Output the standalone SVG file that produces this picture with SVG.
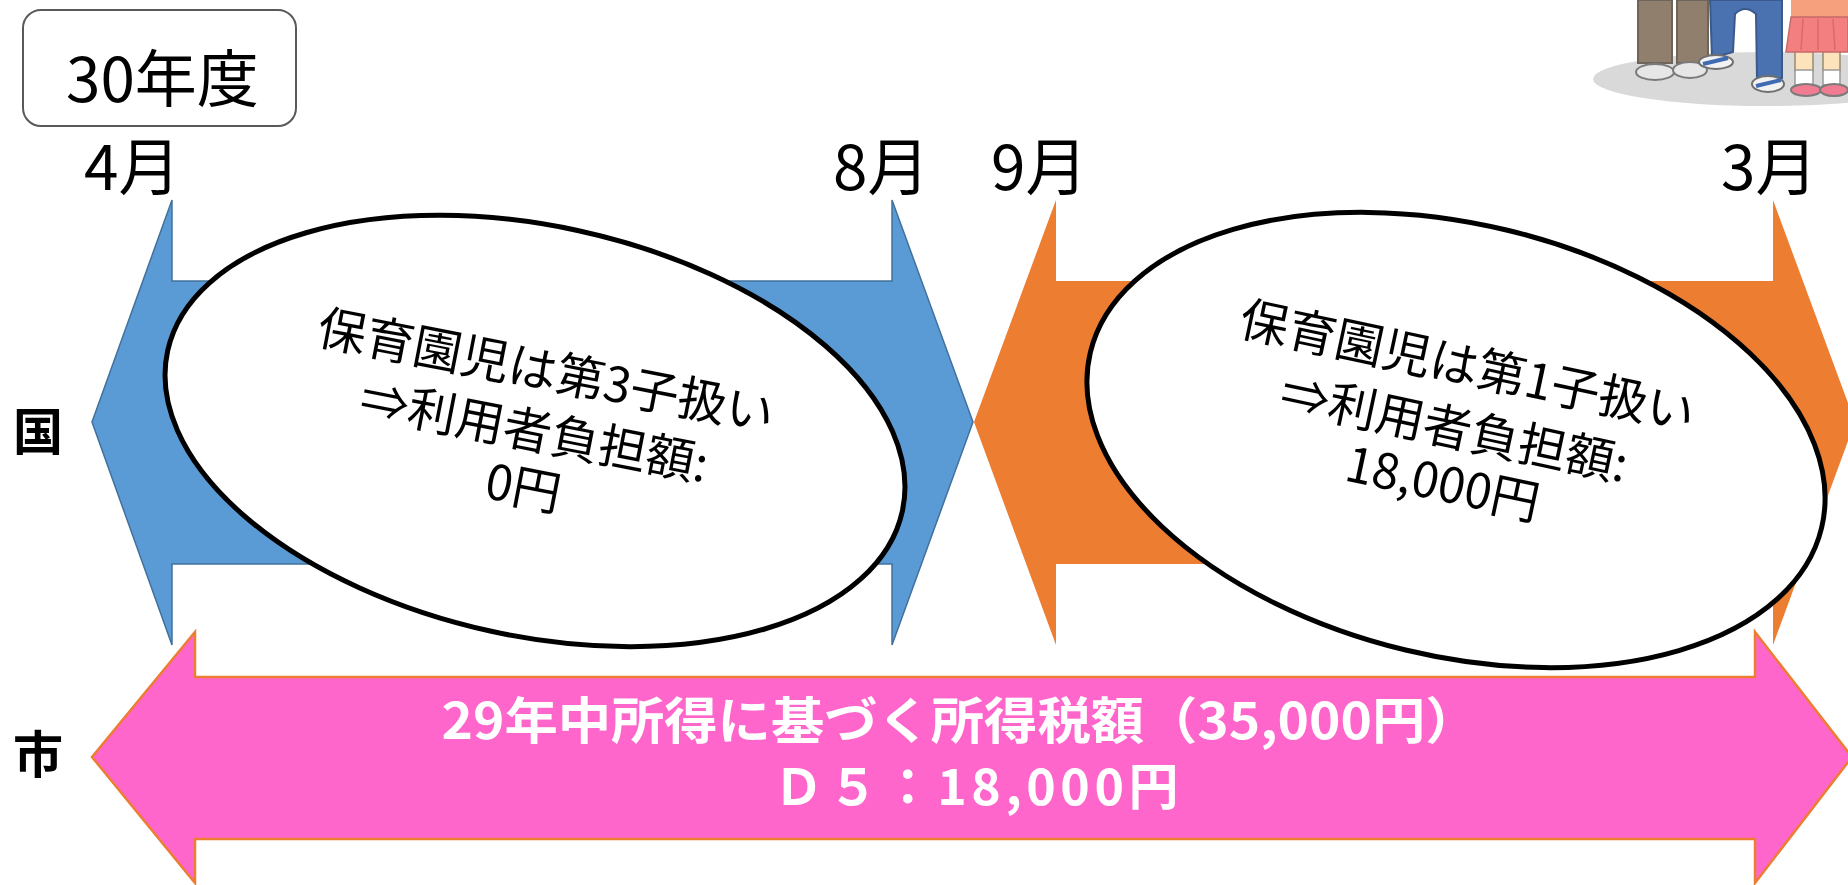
<svg xmlns="http://www.w3.org/2000/svg" width="1848" height="885" viewBox="0 0 1848 885">
  <style>
    .jp { font-family: "Noto Sans CJK JP", "Noto Sans", sans-serif; }
    .month { font-size: 62px; fill: #000; }
    .side { font-size: 50px; font-weight: bold; fill: #000; }
    .bubble { fill: #fff; stroke: #000; stroke-width: 5; }
    .btxt { font-size: 48.5px; fill: #000; text-anchor: middle; }
    .ptxt { font-size: 50px; font-weight: bold; fill: #fff; text-anchor: middle; }
  </style>

  <!-- illustration: family feet on a floor shadow -->
  <g id="illustration">
    <ellipse cx="1765" cy="79" rx="172" ry="27" fill="#d9d9d9"/>
    <!-- adult trousers -->
    <rect x="1638" y="0" width="34" height="63" fill="#8f7f6c" stroke="#6d655b" stroke-width="2"/>
    <rect x="1677" y="0" width="31" height="63" fill="#8f7f6c" stroke="#6d655b" stroke-width="2"/>
    <ellipse cx="1655" cy="72" rx="19" ry="8" fill="#e6e6e6" stroke="#7a7a7a" stroke-width="2"/>
    <ellipse cx="1690" cy="70" rx="17" ry="8" fill="#e6e6e6" stroke="#7a7a7a" stroke-width="2"/>
    <!-- child jeans -->
    <path d="M1710,0 L1782,0 L1782,78 L1757,78 L1756,14 Q1745,4 1735,14 L1733,52 L1712,58 Z" fill="#4a72b0" stroke="#3a5a8c" stroke-width="2"/>
    <ellipse cx="1716" cy="62" rx="17" ry="7" fill="#f2f2f2" stroke="#6f6f6f" stroke-width="2"/>
    <path d="M1703,64 L1728,58" stroke="#3f6bb3" stroke-width="4"/>
    <ellipse cx="1768" cy="84" rx="16" ry="8" fill="#f2f2f2" stroke="#6f6f6f" stroke-width="2"/>
    <path d="M1756,86 L1781,80" stroke="#3f6bb3" stroke-width="4"/>
    <!-- girl -->
    <rect x="1795" y="50" width="18" height="22" fill="#fce3bb" stroke="#9a8a70" stroke-width="1.5"/>
    <rect x="1823" y="50" width="17" height="22" fill="#fce3bb" stroke="#9a8a70" stroke-width="1.5"/>
    <rect x="1795" y="70" width="18" height="15" fill="#fff" stroke="#9a9a9a" stroke-width="1.5"/>
    <rect x="1823" y="70" width="17" height="15" fill="#fff" stroke="#9a9a9a" stroke-width="1.5"/>
    <ellipse cx="1806" cy="90" rx="15" ry="6" fill="#f07c92" stroke="#7a7a7a" stroke-width="2"/>
    <ellipse cx="1834" cy="90" rx="14" ry="6" fill="#f07c92" stroke="#7a7a7a" stroke-width="2"/>
    <rect x="1791" y="0" width="57" height="18" fill="#f7a07e"/>
    <path d="M1791,17 L1848,17 L1848,52 L1786,52 Z" fill="#f47f80" stroke="#c66a6a" stroke-width="1.5"/>
    <path d="M1803,19 L1801,50 M1818,19 L1818,50 M1833,19 L1835,50" stroke="#d96a6c" stroke-width="1.5"/>
  </g>

  <!-- fiscal year badge -->
  <g id="year-badge">
    <rect x="23" y="10" width="273" height="116" rx="18" fill="#fff" stroke="#595959" stroke-width="2"/>
    <text class="jp" x="66" y="102" font-size="62" fill="#000">30年度</text>
  </g>

  <!-- month markers -->
  <g id="months">
    <text class="jp month" x="84" y="190">4月</text>
    <text class="jp month" x="833" y="190">8月</text>
    <text class="jp month" x="991" y="190">9月</text>
    <text class="jp month" x="1721" y="190">3月</text>
  </g>

  <!-- row labels -->
  <g id="row-labels">
    <text class="jp side" x="13" y="450">国</text>
    <text class="jp side" x="13" y="773">市</text>
  </g>

  <!-- period arrows -->
  <g id="connectors">
    <polygon id="arrow-apr-aug" points="92,422 172,200 172,281 892,281 892,200 973,422 892,645 892,564 172,564 172,645" fill="#5b9bd5" stroke="#41719c" stroke-width="1.5"/>
    <polygon id="arrow-sep-mar" points="974,422 1056,200 1056,281 1773,281 1773,200 1855,422 1773,645 1773,564 1056,564 1056,645" fill="#ed7d31"/>
    <polygon id="arrow-city" points="92,757 195,632 195,677 1755,677 1755,632 1852,757 1755,883 1755,839 195,839 195,883" fill="#ff66cc" stroke="#ed7d31" stroke-width="2.5"/>
  </g>

  <!-- first half bubble -->
  <g id="bubble-first">
    <ellipse class="bubble" cx="535" cy="431" rx="376" ry="205" transform="rotate(12.3 535 431)"/>
    <g transform="translate(534 433) rotate(11)">
      <text class="jp btxt" x="0" y="-46">保育園児は第3子扱い</text>
      <text class="jp btxt" x="0" y="16">⇒利用者負担額:</text>
      <text class="jp btxt" x="0" y="73">0円</text>
    </g>
  </g>

  <!-- second half bubble -->
  <g id="bubble-second">
    <ellipse class="bubble" cx="1456" cy="440" rx="376" ry="216" transform="rotate(13.5 1456 440)"/>
    <g transform="translate(1454 430) rotate(12)">
      <text class="jp btxt" x="0" y="-48">保育園児は第1子扱い</text>
      <text class="jp btxt" x="0" y="16">⇒利用者負担額:</text>
      <text class="jp btxt" x="0" y="72">18,000円</text>
    </g>
  </g>

  <!-- city rate label -->
  <g id="city-label">
    <text class="jp ptxt" x="960" y="739" textLength="1037" lengthAdjust="spacingAndGlyphs">29年中所得に基づく所得税額（35,000円）</text>
    <text class="jp ptxt" x="976" y="805" textLength="405" lengthAdjust="spacing">Ｄ５：18,000円</text>
  </g>
</svg>
